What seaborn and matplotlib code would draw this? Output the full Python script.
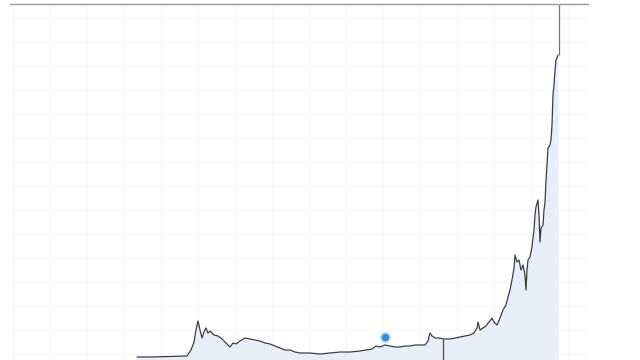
import matplotlib
matplotlib.use("Agg")
import matplotlib.pyplot as plt
import seaborn as sns
import pandas as pd
import numpy as np

# Values (day index, price in arbitrary units)
day = [127, 140, 160, 177, 181, 184, 186, 188, 190, 192,
       194, 196, 198, 200, 204, 208, 212, 216, 220, 223,
       226, 230, 235, 240, 245, 250, 255, 260, 265, 270,
       275, 280, 285, 290, 300, 310, 320, 330, 340, 350,
       356, 362, 366, 370, 375, 380, 385, 390, 395, 400,
       405, 410, 415, 418, 420, 422, 425, 430, 433, 440,
       445, 450, 455, 460, 464, 467, 468, 470, 473, 476,
       478, 480, 482, 484, 487, 490, 493, 496, 498, 500,
       502, 504, 505, 507, 509, 511, 513, 515, 516, 517,
       518, 520, 522, 523, 524, 525, 526, 528, 529, 530,
       531, 533, 534, 535, 536, 537, 538, 540, 541, 542,
       543, 544, 545, 546, 547, 548]
price = [3, 3, 3.5, 4, 10, 18, 30, 39, 30, 22,
         28, 32, 27, 29, 25, 24, 21, 17, 13, 17,
         16, 19, 22, 21, 20, 19, 17, 16, 14, 12,
         10, 10, 8, 7, 7, 6, 7, 8, 8, 9,
         10, 11, 14, 13, 15, 14, 13, 13, 14, 14,
         15, 15, 15, 19, 27, 24, 22, 22, 21, 21,
         22, 23, 24, 25, 27, 32, 38, 30, 32, 34,
         37, 39, 42, 38, 35, 42, 50, 55, 63, 70,
         80, 92, 105, 98, 100, 90, 95, 85, 70, 90,
         100, 103, 113, 122, 130, 145, 153, 160, 145, 118,
         132, 135, 150, 157, 180, 195, 212, 215, 220, 235,
         265, 275, 290, 300, 302, 305]

marker_day = [375]
marker_price = [23]

cursor_day = 433   # vertical cursor in lower part
cursor_price = 21

df = pd.DataFrame({"day": day, "price": price})

sns.set_theme(style="white")
fig = plt.figure(figsize=(6.4, 3.6), dpi=100)
ax = fig.add_axes([10 / 640, 0, 578 / 640, 356 / 360])

ax.fill_between(df["day"], df["price"], 0, color="#e8effa", lw=0, zorder=1)
sns.lineplot(data=df, x="day", y="price", ax=ax, color="#3d3d3d", lw=0.9, zorder=3)

# crosshair at the last value
ax.vlines(day[-1] + 1, price[-1], 356, color="#777777", lw=0.9, zorder=2)
ax.vlines(cursor_day, 0, cursor_price, color="#555555", lw=1.0, zorder=2)

ax.scatter(marker_day, marker_price, s=40, color="#2e8fd8", edgecolor="#a5d0f2",
           linewidth=1.2, zorder=4)

ax.set_xlim(0, 578)
ax.set_ylim(0, 356)
ax.set_xticks(np.arange(3, 578, 37))
ax.set_yticks(np.arange(6, 356, 24))
ax.grid(True, color="#f7f7f7", lw=0.8, zorder=0)
ax.tick_params(length=0, labelbottom=False, labelleft=False)
ax.set_xlabel("")
ax.set_ylabel("")
for side in ["left", "right", "bottom"]:
    ax.spines[side].set_visible(False)
ax.spines["top"].set_color("#9a9a9a")
ax.spines["top"].set_linewidth(1.0)

fig.savefig("out.png", dpi=100)
